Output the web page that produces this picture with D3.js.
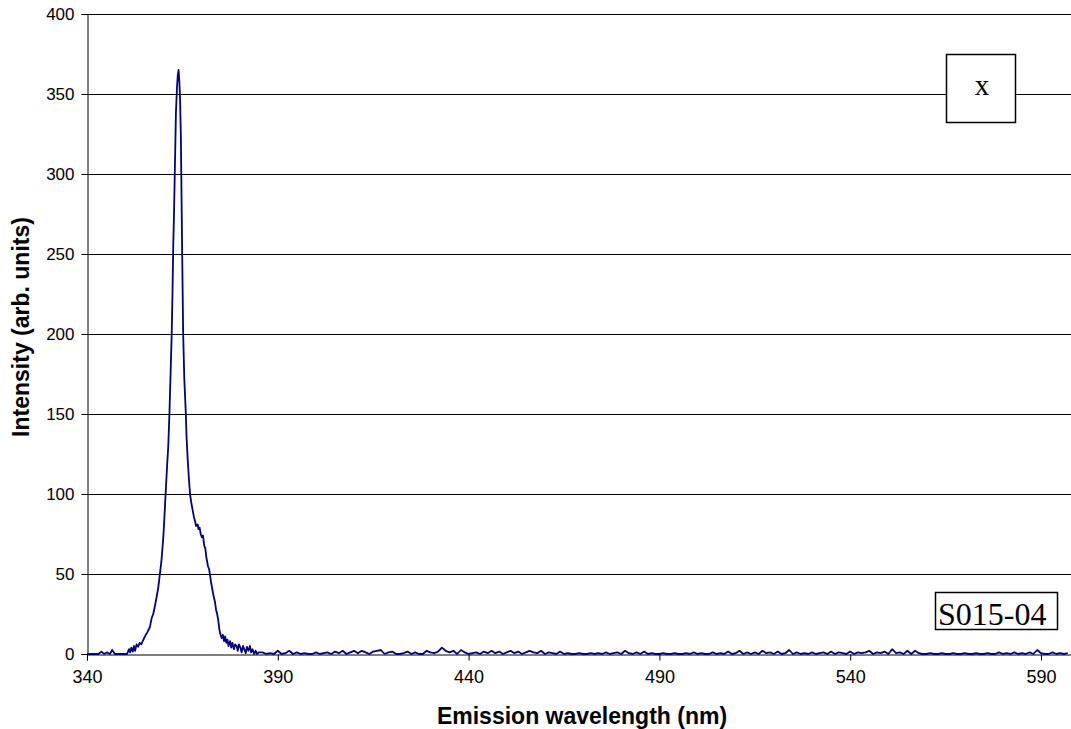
<!DOCTYPE html>
<html>
<head>
<meta charset="utf-8">
<script src="https://cdn.jsdelivr.net/npm/d3@7"></script>
<style>
  body { margin: 0; background: #fff; }
  text { font-family: Arial, "Liberation Sans", sans-serif; }
</style>
</head>
<body>
<div id="chart"></div>
<script>
// emission peak (nm, arb. units)
var peakWavelength = [340, 341, 342, 343, 343.8, 344.5, 345.2, 346, 346.6, 347.3, 348, 349, 350, 350.5,
  351, 351.3, 351.6, 352, 352.3, 352.6, 353, 353.4, 353.8, 354.2, 354.6, 355, 355.4, 355.8, 356.1,
  356.5, 356.9, 357.4, 357.8, 358.2, 358.7, 359.1, 359.5, 360, 360.3, 360.6, 361, 361.3, 361.6,
  361.9, 362.2, 362.4, 362.6, 362.8, 363, 363.1, 363.3, 363.6, 363.8, 364, 364.2, 364.4, 364.6,
  364.8, 364.9, 365.2, 365.5, 365.9, 366.1, 366.4, 366.7, 367, 367.3, 367.6, 368, 368.3, 368.6,
  369, 369.2, 369.5, 369.8, 370.1, 370.4, 370.7, 371, 371.3, 371.7, 372, 372.2, 372.5, 372.8,
  373.1, 373.5, 373.8, 374.1, 374.4, 374.7, 375, 375.3, 375.6, 375.9, 376.2, 376.5, 376.8, 377.1,
  377.5, 377.8, 378.1, 378.5, 378.8, 379.2, 379.5, 379.8, 380.2, 380.5, 380.9, 381.2, 381.6,
  381.9, 382.3, 382.7, 383, 383.4, 383.8, 384.2, 384.6, 385];
var peakIntensity = [0, 0, 0, 0, 1.5, 0, 1, 0, 2.5, 0, 0, 0, 0, 0,
  3, 1, 4, 1.5, 5, 2, 6, 4.5, 7, 6, 8, 10, 12, 13.5, 15,
  17, 22, 25.5, 30, 35, 42, 50, 58, 73, 86, 100, 118, 130, 150,
  175, 200, 225, 255, 275, 300, 312, 338, 355, 362, 365, 358, 346, 323,
  280, 259, 200, 172, 150, 135, 121, 110, 100, 95, 91, 86, 83, 80,
  81, 78, 79, 75, 73, 74, 68, 66, 60, 55, 53, 50, 45, 41,
  37, 33, 28, 25, 21, 15, 12, 10, 12, 8, 11, 7, 9, 5,
  8, 4, 7, 3, 6, 5, 2, 6, 4, 1, 5, 3, 0.5,
  4.5, 2, 5, 1, 3, 0, 2, 0, 1];

// noisy baseline, one reading per nm from 386 to 597
var baselineStart = 386;
var baselineIntensity = [
  1, 0, 0.5, 0, 2, 0, 0.5, 2, 0, 1,
  0, 0.5, 0, 0, 1, 0, 0.5, 1, 0, 1.5,
  0.5, 2, 0, 1, 2, 0.5, 2, 1, 0, 1.5,
  2, 2.5, 0, 1, 1.5, 0, 0, 0.5, 1.5, 0,
  1, 0, 0, 2, 1, 0.5, 1.5, 4, 2, 1,
  2, 0, 2.5, 1, 0, 0.5, 1, 0, 1.5, 0.5,
  2, 0.5, 1.5, 0, 1, 2, 0.5, 1.5, 0, 1,
  2, 1, 0.5, 2, 0, 1, 0.5, 0, 1.5, 0,
  0.5, 0, 0, 0.5, 0, 0, 0.5, 0, 0.5, 0,
  1, 0, 0.5, 1, 0, 2, 0.5, 0, 1, 0,
  1.5, 0, 0.5, 0, 0, 0.5, 0, 0, 0.5, 0,
  0, 0.5, 0, 1, 0, 0.5, 0, 0, 1, 0,
  0.5, 0, 1.5, 0, 0.5, 2, 0, 1, 0, 1,
  0, 2, 0.5, 1, 0, 1.5, 0, 0.5, 2.5, 0,
  1, 0, 0.5, 0, 1, 0, 0.5, 1, 0, 1.5,
  0, 1, 0.5, 0, 1.5, 0, 1, 0.5, 1, 2,
  0, 1, 0.5, 1.5, 0, 3, 0.5, 1, 0, 2,
  0, 2, 0.5, 0, 0, 0.5, 0, 0, 0.5, 0,
  0, 0.5, 0, 0, 0.5, 0, 0, 0.5, 0, 0,
  0.5, 0, 0, 1, 0, 0.5, 0, 1, 0, 0.5,
  0, 1, 0, 2.5, 0.5, 0, 0, 1, 0, 0.5,
  0, 0.5];

var xTicks = [340, 390, 440, 490, 540, 590];
var yTicks = [0, 50, 100, 150, 200, 250, 300, 350, 400];

var data = peakWavelength.map(function(w, i) { return {wl: w, v: peakIntensity[i]}; })
  .concat(baselineIntensity.map(function(v, i) { return {wl: baselineStart + i, v: v}; }));

var svg = d3.select("#chart")
    .append("svg")
    .attr("width", 1071)
    .attr("height", 729);

var margin = {top: 14, left: 87, bottom: 654};

var x = d3.scaleLinear()
    .domain([340, 600])
    .range([margin.left, margin.left + 260 * 3.816]);

var y = d3.scaleLinear()
    .domain([0, 400])
    .range([margin.bottom, margin.top]);

// grid lines
svg.append("g")
  .selectAll("line")
  .data(yTicks.slice(1))
  .enter().append("line")
    .attr("x1", margin.left)
    .attr("x2", 1071)
    .attr("y1", function(d) { return Math.round(y(d)) + 0.5; })
    .attr("y2", function(d) { return Math.round(y(d)) + 0.5; })
    .attr("stroke", "#000")
    .attr("stroke-width", 1);

// y axis
var yAxis = svg.append("g")
    .attr("transform", "translate(" + (margin.left + 0.5) + ",0)")
    .call(d3.axisLeft(y).tickValues(yTicks).tickSize(6).tickPadding(7));
yAxis.select(".domain").attr("stroke", "#000");
yAxis.selectAll("text").style("font-size", "17px").attr("fill", "#000")
    .style("font-family", "Arial, 'Liberation Sans', sans-serif");

// x axis
var xAxis = svg.append("g")
    .attr("transform", "translate(0," + (margin.bottom + 0.5) + ")")
    .call(d3.axisBottom(x).tickValues(xTicks).tickSize(6).tickPadding(10));
xAxis.select(".domain").attr("stroke", "#000");
xAxis.selectAll("text").style("font-size", "18px").attr("fill", "#000")
    .style("font-family", "Arial, 'Liberation Sans', sans-serif");

// spectrum
var line = d3.line()
    .x(function(d) { return x(d.wl); })
    .y(function(d) { return y(d.v); });

svg.append("path")
    .datum(data)
    .attr("d", line)
    .attr("fill", "none")
    .attr("stroke", "#000080")
    .attr("stroke-width", 1.8)
    .attr("stroke-linejoin", "round");

// axis titles
svg.append("text")
    .attr("x", 582)
    .attr("y", 724)
    .attr("text-anchor", "middle")
    .style("font-size", "23px")
    .style("font-weight", "bold")
    .text("Emission wavelength (nm)");

svg.append("text")
    .attr("transform", "translate(29,327) rotate(-90)")
    .attr("text-anchor", "middle")
    .style("font-size", "23px")
    .style("font-weight", "bold")
    .text("Intensity (arb. units)");

// label boxes
svg.append("rect")
    .attr("x", 946.5).attr("y", 54.5)
    .attr("width", 69).attr("height", 68)
    .attr("fill", "#fff").attr("stroke", "#000").attr("stroke-width", 1.5);
svg.append("text")
    .attr("x", 982).attr("y", 95)
    .attr("text-anchor", "middle")
    .style("font-family", "'Liberation Serif', 'Times New Roman', serif")
    .style("font-size", "29px")
    .text("x");

svg.append("rect")
    .attr("x", 935.5).attr("y", 592.5)
    .attr("width", 122).attr("height", 37)
    .attr("fill", "#fff").attr("stroke", "#000").attr("stroke-width", 1.5);
svg.append("text")
    .attr("x", 938).attr("y", 625)
    .style("font-family", "'Liberation Serif', 'Times New Roman', serif")
    .style("font-size", "32px")
    .text("S015-04");
</script>
</body>
</html>
